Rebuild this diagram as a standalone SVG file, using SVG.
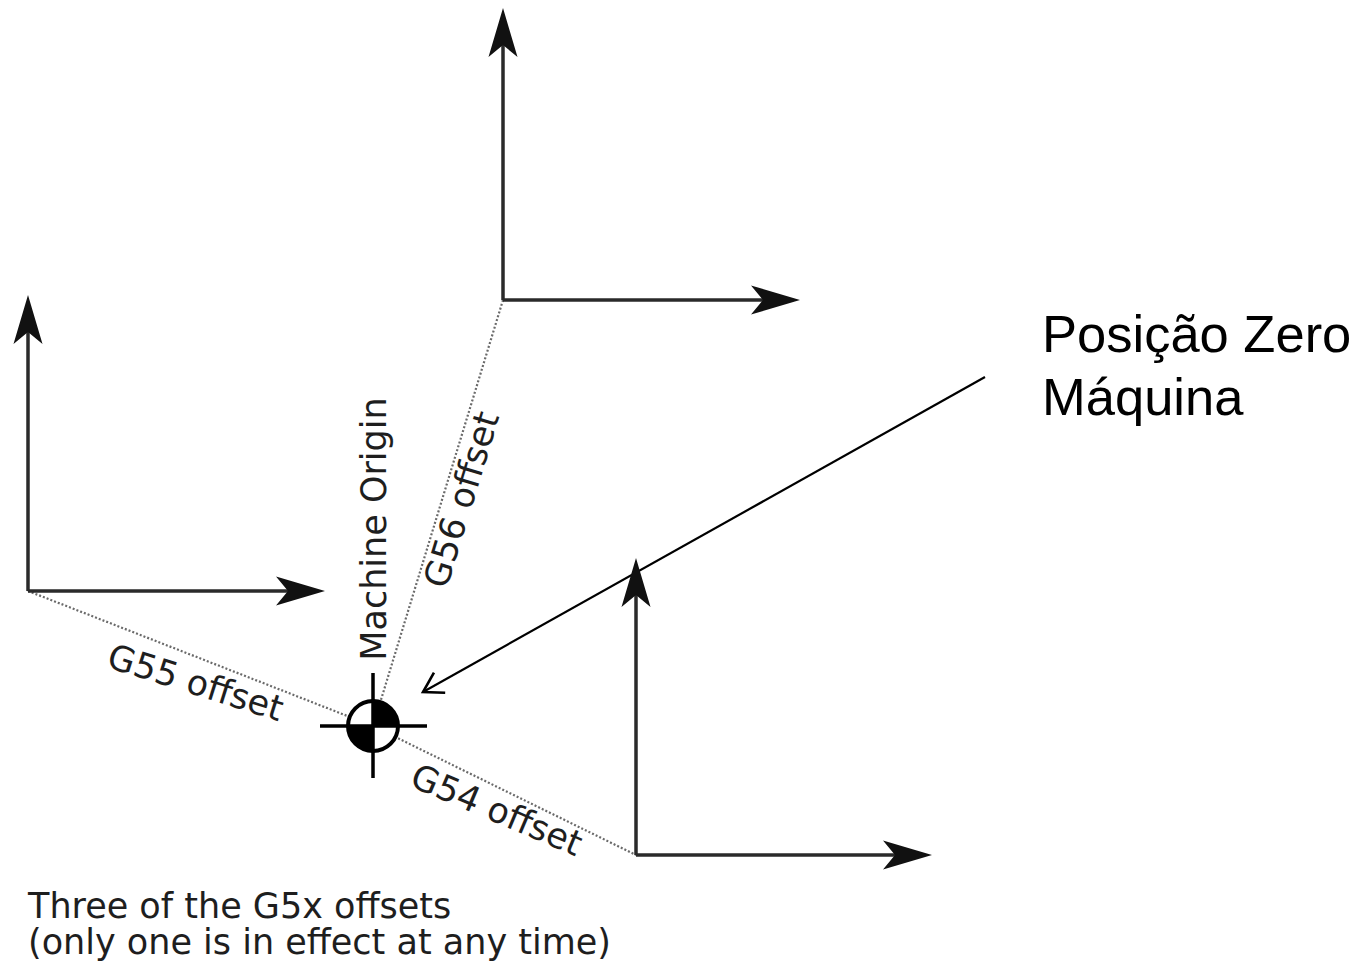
<svg xmlns="http://www.w3.org/2000/svg" width="1362" height="962" viewBox="0 0 1362 962">
  <style>
    .axis { stroke: #2a2a2a; stroke-width: 3.5; fill: none; marker-end: url(#axisHead); }
    .offset { stroke: #6a6a6a; stroke-width: 2.2; stroke-dasharray: 2 2; fill: none; }
    .lbl { font-family: "DejaVu Sans", Verdana, sans-serif; font-size: 35px; fill: #1e1e1e; }
    .note { font-family: "Liberation Sans", Arial, sans-serif; font-size: 52.5px; fill: #000; }
    .pointer { stroke: #000; stroke-width: 2.2; fill: none; marker-end: url(#openHead); }
  </style>
  <defs>
    <!-- axis arrowhead, notch at the line end, tip 37px ahead -->
    <marker id="axisHead" markerUnits="userSpaceOnUse" orient="auto" markerWidth="60" markerHeight="40" refX="0" refY="0" viewBox="-15 -20 60 40" overflow="visible">
      <path d="M37,0 L-12,-14.5 L0,0 L-12,14.5 Z" fill="#111"/>
    </marker>
    <!-- open V arrowhead for the callout line -->
    <marker id="openHead" markerUnits="userSpaceOnUse" orient="auto" markerWidth="30" markerHeight="30" refX="0" refY="0" viewBox="-25 -15 30 30" overflow="visible">
      <path d="M-19,-11.5 L0,0 L-19,11.5" fill="none" stroke="#000" stroke-width="2.6"/>
    </marker>
  </defs>

  <rect width="1362" height="962" fill="#fff"/>

  <g id="connectors">
    <path class="offset" d="M503,300 L373,726"/>
    <path class="offset" d="M28,591 L373,726"/>
    <path class="offset" d="M373,726 L636,855"/>
    <path class="pointer" d="M985,377 L423,692"/>
  </g>

  <g id="frame-g56">
    <path class="axis" d="M503,300 L503,45"/>
    <path class="axis" d="M503,300 L763,300"/>
  </g>

  <g id="frame-g55">
    <path class="axis" d="M28,591 L28,332"/>
    <path class="axis" d="M28,591 L288,591"/>
  </g>

  <g id="frame-g54">
    <path class="axis" d="M636,855 L636,595"/>
    <path class="axis" d="M636,855 L895,855"/>
  </g>

  <g id="machine-origin">
    <circle cx="373" cy="726" r="25" fill="#fff" stroke="#000" stroke-width="4"/>
    <path d="M373,726 L373,701 A25,25 0 0 1 398,726 Z" fill="#000"/>
    <path d="M373,726 L373,751 A25,25 0 0 1 348,726 Z" fill="#000"/>
    <path d="M320,726 L427,726 M373,673 L373,778" stroke="#000" stroke-width="3.5"/>
    <text class="lbl" text-anchor="middle" transform="translate(386,529) rotate(-90)">Machine Origin</text>
  </g>

  <g id="offset-labels">
    <text class="lbl" text-anchor="middle" transform="translate(473,503) rotate(-73)">G56 offset</text>
    <text class="lbl" text-anchor="middle" transform="translate(192,694) rotate(17.5)">G55 offset</text>
    <text class="lbl" text-anchor="middle" transform="translate(492,821) rotate(23)">G54 offset</text>
  </g>

  <g id="caption">
    <text class="lbl" x="28" y="918">Three of the G5x offsets</text>
    <text class="lbl" x="28" y="954">(only one is in effect at any time)</text>
  </g>

  <g id="zero-label">
    <text class="note" x="1042" y="352">Posição Zero</text>
    <text class="note" x="1042" y="415">Máquina</text>
  </g>
</svg>
